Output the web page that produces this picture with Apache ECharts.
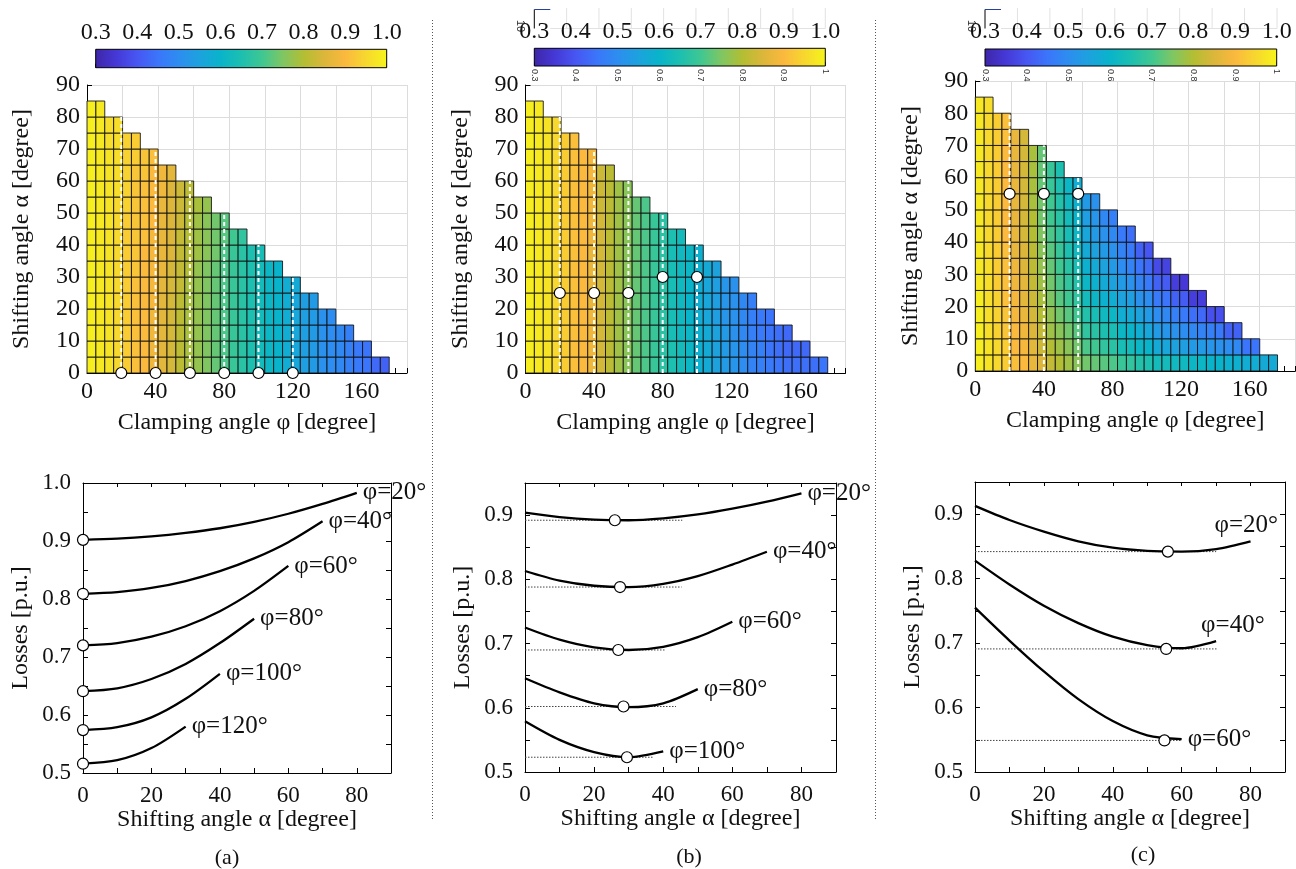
<!DOCTYPE html>
<html><head><meta charset="utf-8">
<script src="https://cdn.jsdelivr.net/npm/echarts@6/dist/echarts.min.js"></script>
<style>html,body{margin:0;padding:0;background:#fff}#c{width:1296px;height:869px}</style>
</head><body><div id="c"></div>
<script>
// ---------- DATA ----------
const cellPhi = [0,5,10,15,20,25,30,35,40,45,50,55,60,65,70,75,80,85,90,95,100,105,110,115,120,125,130,135,140,145,150,155,160,165];
const cellAlpha = [0,5,10,15,20,25,30,35,40,45,50,55,60,65,70,75,80];
const colorbarRange = [0.3, 1.0];

const heatA = [
[0.99,0.99,0.99,0.99,0.99,0.99,0.99,0.99,0.99,0.99,0.99,0.99,0.99,0.99,0.99,0.99,0.99],
[0.98,0.98,0.98,0.98,0.98,0.98,0.98,0.98,0.98,0.98,0.98,0.98,0.98,0.98,0.98,0.98,0.98],
[0.97,0.97,0.97,0.97,0.97,0.97,0.97,0.97,0.97,0.97,0.97,0.97,0.97,0.97,0.96,0.96],
[0.95,0.95,0.95,0.95,0.95,0.95,0.95,0.95,0.95,0.95,0.95,0.96,0.96,0.96,0.96,0.96],
[0.93,0.93,0.93,0.93,0.93,0.93,0.93,0.93,0.93,0.93,0.94,0.94,0.94,0.94,0.94],
[0.91,0.91,0.91,0.91,0.91,0.91,0.92,0.92,0.92,0.92,0.92,0.92,0.92,0.93,0.93],
[0.90,0.90,0.90,0.90,0.90,0.90,0.90,0.90,0.91,0.91,0.91,0.91,0.92,0.92],
[0.88,0.88,0.88,0.88,0.89,0.89,0.89,0.89,0.89,0.90,0.90,0.90,0.90,0.91],
[0.86,0.86,0.86,0.86,0.86,0.86,0.87,0.87,0.87,0.87,0.87,0.88,0.88],
[0.84,0.84,0.84,0.84,0.84,0.84,0.84,0.85,0.85,0.85,0.85,0.85,0.86],
[0.81,0.81,0.81,0.81,0.81,0.82,0.82,0.82,0.82,0.83,0.83,0.83],
[0.79,0.79,0.79,0.79,0.79,0.79,0.80,0.80,0.80,0.80,0.81,0.81],
[0.77,0.77,0.77,0.77,0.77,0.77,0.77,0.78,0.78,0.78,0.79],
[0.75,0.75,0.75,0.75,0.75,0.75,0.75,0.76,0.76,0.76,0.77],
[0.73,0.73,0.73,0.73,0.73,0.73,0.73,0.74,0.74,0.74],
[0.71,0.71,0.71,0.71,0.71,0.71,0.71,0.71,0.72,0.72],
[0.69,0.69,0.69,0.69,0.69,0.69,0.69,0.69,0.70],
[0.67,0.67,0.67,0.67,0.67,0.67,0.67,0.67,0.68],
[0.65,0.65,0.65,0.65,0.65,0.65,0.65,0.65],
[0.63,0.63,0.63,0.63,0.63,0.63,0.63,0.64],
[0.61,0.61,0.61,0.61,0.61,0.61,0.61],
[0.60,0.60,0.60,0.60,0.60,0.60,0.60],
[0.58,0.58,0.58,0.58,0.58,0.58],
[0.56,0.56,0.56,0.56,0.56,0.57],
[0.54,0.54,0.54,0.54,0.54],
[0.53,0.53,0.53,0.53,0.53],
[0.51,0.51,0.51,0.51],
[0.50,0.50,0.50,0.50],
[0.49,0.49,0.49],
[0.47,0.47,0.47],
[0.46,0.46],
[0.45,0.45],
[0.43],
[0.42]];

const heatB = [
[0.99,0.99,0.99,0.99,0.99,0.99,0.99,0.99,0.99,0.99,0.99,0.99,0.99,0.99,0.99,0.99,0.99],
[0.98,0.98,0.98,0.98,0.98,0.98,0.98,0.98,0.98,0.98,0.98,0.98,0.98,0.98,0.98,0.98,0.98],
[0.97,0.97,0.97,0.97,0.97,0.97,0.97,0.97,0.97,0.97,0.97,0.97,0.97,0.97,0.97,0.97],
[0.95,0.95,0.95,0.95,0.95,0.95,0.95,0.95,0.95,0.95,0.95,0.95,0.95,0.95,0.95,0.95],
[0.93,0.93,0.93,0.93,0.93,0.93,0.93,0.93,0.93,0.93,0.93,0.93,0.93,0.93,0.93],
[0.91,0.91,0.91,0.91,0.91,0.91,0.91,0.91,0.91,0.91,0.91,0.91,0.91,0.91,0.91],
[0.90,0.90,0.90,0.90,0.90,0.90,0.90,0.90,0.90,0.90,0.90,0.90,0.90,0.90],
[0.88,0.88,0.88,0.88,0.87,0.87,0.87,0.87,0.88,0.88,0.88,0.88,0.89,0.89],
[0.84,0.84,0.84,0.84,0.84,0.84,0.84,0.84,0.84,0.84,0.83,0.83,0.83],
[0.81,0.81,0.81,0.81,0.81,0.81,0.81,0.81,0.81,0.81,0.81,0.81,0.81],
[0.78,0.78,0.78,0.78,0.78,0.78,0.78,0.78,0.78,0.78,0.78,0.78],
[0.76,0.76,0.76,0.76,0.76,0.76,0.76,0.76,0.76,0.76,0.76,0.76],
[0.73,0.73,0.73,0.73,0.73,0.73,0.73,0.73,0.73,0.73,0.73],
[0.71,0.71,0.71,0.71,0.71,0.71,0.71,0.71,0.71,0.71,0.71],
[0.69,0.69,0.69,0.69,0.69,0.69,0.69,0.69,0.69,0.69],
[0.67,0.67,0.67,0.67,0.67,0.67,0.67,0.67,0.67,0.67],
[0.65,0.65,0.64,0.64,0.64,0.64,0.64,0.64,0.65],
[0.63,0.63,0.62,0.62,0.62,0.62,0.62,0.62,0.63],
[0.61,0.61,0.61,0.60,0.60,0.60,0.61,0.61],
[0.59,0.59,0.59,0.58,0.58,0.58,0.59,0.59],
[0.57,0.57,0.57,0.56,0.56,0.56,0.57],
[0.55,0.55,0.55,0.54,0.54,0.54,0.55],
[0.53,0.53,0.53,0.52,0.52,0.52],
[0.52,0.52,0.51,0.51,0.51,0.51],
[0.50,0.50,0.49,0.49,0.49],
[0.48,0.48,0.47,0.47,0.47],
[0.47,0.47,0.46,0.46],
[0.46,0.45,0.45,0.45],
[0.45,0.44,0.44],
[0.44,0.43,0.43],
[0.44,0.43],
[0.44,0.43],
[0.44],
[0.45]];

const heatC = [
[0.99,0.99,0.99,0.99,0.99,0.98,0.98,0.98,0.98,0.98,0.98,0.98,0.98,0.98,0.98,0.98,0.98],
[0.97,0.97,0.96,0.96,0.96,0.96,0.96,0.95,0.95,0.95,0.95,0.95,0.95,0.95,0.95,0.95,0.96],
[0.95,0.95,0.94,0.94,0.94,0.93,0.93,0.93,0.93,0.93,0.93,0.93,0.93,0.93,0.93,0.93],
[0.93,0.93,0.92,0.92,0.91,0.91,0.91,0.91,0.90,0.90,0.90,0.90,0.90,0.90,0.91,0.91],
[0.91,0.90,0.90,0.89,0.89,0.88,0.88,0.87,0.87,0.87,0.87,0.87,0.87,0.87,0.87],
[0.90,0.89,0.88,0.87,0.86,0.86,0.85,0.85,0.84,0.84,0.84,0.84,0.84,0.84,0.84],
[0.87,0.86,0.85,0.84,0.83,0.82,0.81,0.81,0.80,0.80,0.79,0.79,0.79,0.79],
[0.85,0.83,0.82,0.80,0.79,0.78,0.77,0.76,0.75,0.74,0.74,0.73,0.73,0.73],
[0.82,0.80,0.78,0.77,0.75,0.74,0.73,0.72,0.71,0.70,0.70,0.69,0.69],
[0.80,0.78,0.76,0.74,0.72,0.71,0.70,0.69,0.68,0.67,0.66,0.65,0.65],
[0.78,0.76,0.74,0.72,0.70,0.68,0.67,0.65,0.64,0.63,0.62,0.61],
[0.76,0.74,0.72,0.70,0.68,0.66,0.64,0.62,0.61,0.60,0.59,0.58],
[0.74,0.71,0.68,0.66,0.63,0.61,0.59,0.57,0.56,0.54,0.53],
[0.73,0.70,0.67,0.64,0.61,0.59,0.57,0.55,0.53,0.52,0.51],
[0.72,0.68,0.65,0.62,0.59,0.57,0.55,0.53,0.51,0.49],
[0.71,0.67,0.64,0.61,0.58,0.55,0.53,0.51,0.49,0.47],
[0.69,0.64,0.61,0.58,0.55,0.53,0.50,0.48,0.46],
[0.68,0.63,0.60,0.57,0.54,0.51,0.48,0.46,0.44],
[0.66,0.61,0.58,0.55,0.51,0.48,0.45,0.42],
[0.65,0.60,0.56,0.53,0.50,0.46,0.43,0.40],
[0.63,0.57,0.53,0.50,0.46,0.42,0.38],
[0.63,0.56,0.52,0.49,0.45,0.41,0.37],
[0.62,0.55,0.51,0.47,0.42,0.36],
[0.62,0.54,0.50,0.46,0.41,0.35],
[0.61,0.53,0.49,0.44,0.36],
[0.61,0.53,0.48,0.43,0.36],
[0.60,0.52,0.47,0.39],
[0.60,0.51,0.46,0.39],
[0.59,0.50,0.42],
[0.59,0.49,0.42],
[0.58,0.45],
[0.58,0.45],
[0.57],
[0.57]];

// optimum markers / dotted guide lines on the maps
const mapPhiA = [20,40,60,80,100,120];
const mapAlphaA = [0,0,0,0,0,0];
const mapTopA = [80,70,60,50,40,30];
const mapPhiB = [20,40,60,80,100];
const mapAlphaB = [25,25,25,30,30];
const mapTopB = [80,70,60,50,40];
const mapPhiC = [20,40,60];
const mapAlphaC = [55,55,55];
const mapTopC = [80,70,60];

// loss curves
const labelsA = ['φ=20°','φ=40°','φ=60°','φ=80°','φ=100°','φ=120°'];
const alphaA = [[0,10,20,30,40,50,60,70,80],[0,10,20,30,40,50,60,70],[0,10,20,30,40,50,60],[0,10,20,30,40,50],[0,10,20,30,40],[0,10,20,30]];
const lossA = [[0.902,0.904,0.908,0.914,0.922,0.933,0.947,0.964,0.983],[0.809,0.812,0.819,0.831,0.848,0.870,0.898,0.934],[0.720,0.724,0.735,0.753,0.779,0.814,0.857],[0.641,0.646,0.662,0.688,0.724,0.766],[0.574,0.579,0.596,0.628,0.671],[0.516,0.522,0.543,0.580]];
const optAlphaA = [0,0,0,0,0,0];
const optLossA = [0.902,0.809,0.720,0.641,0.574,0.516];

const labelsB = ['φ=20°','φ=40°','φ=60°','φ=80°','φ=100°'];
const alphaB = [[0,10,20,30,40,50,60,70,80],[0,10,20,30,40,50,60,70],[0,10,20,30,40,50,60],[0,10,20,30,40,50],[0,10,20,30,40]];
const lossB = [[0.904,0.897,0.893,0.892,0.895,0.901,0.910,0.921,0.934],[0.813,0.798,0.790,0.788,0.793,0.805,0.823,0.843],[0.725,0.706,0.694,0.690,0.695,0.710,0.734],[0.646,0.624,0.607,0.601,0.607,0.629],[0.579,0.550,0.531,0.523,0.532]];
const optAlphaB = [26,27.5,27,28.5,29.5];
const optLossB = [0.892,0.788,0.690,0.602,0.523];
const refEndB = [45.5,45.3,40.5,43.7,37];

const labelsC = ['φ=20°','φ=40°','φ=60°'];
const alphaC = [[0,10,20,30,40,50,60,70,80],[0,10,20,30,40,50,60,70],[0,10,20,30,40,50,60]];
const lossC = [[0.913,0.891,0.873,0.858,0.848,0.843,0.842,0.846,0.858],[0.828,0.791,0.758,0.731,0.710,0.697,0.692,0.703],[0.755,0.704,0.656,0.613,0.579,0.557,0.551]];
const optAlphaC = [56,55.5,55];
const optLossC = [0.842,0.691,0.549];
const refEndC = [70,70.5,59.7];

// ---------- STYLE / LAYOUT ----------
const FONT = 'Liberation Serif';
const TXT = '#111';
const parula = ['#3E26A8','#4538D6','#4756F2','#3B75FB','#2D8DF0','#1DA2DE','#09B4CA','#1CBFB0','#3FC792','#7FC663','#B3BE33','#DCB63A','#FBB93E','#F7D82E','#F6F41A'];
const CELL = 5;
const heatGrids = [{left:87,top:85,width:320,height:288},{left:525.5,top:85,width:320,height:288},{left:975.3,top:81,width:320,height:290}];
const cbGrids = [{left:95.7,top:49.3,width:291,height:18.4},{left:534.3,top:48.3,width:291,height:17.7},{left:985,top:49,width:291.7,height:17}];
const lossGrids = [{left:83,top:483,width:308,height:290},{left:525,top:483,width:311,height:289},{left:975,top:482,width:310,height:290}];
const lossMax = [1.0,0.95,0.95];

const grid = [];
heatGrids.concat(cbGrids, lossGrids).forEach(g => grid.push(Object.assign({outerBoundsMode:'none', containLabel:false}, g)));

const xAxis = [], yAxis = [];
const lbl = (size, extra) => Object.assign({fontFamily:FONT, fontSize:size, color:TXT}, extra||{});
// heat cell axes 0..2
for (let p=0;p<3;p++) xAxis.push({gridIndex:p,type:'value',min:0,max:180,interval:20,axisLine:{show:false},axisTick:{show:false},axisLabel:{show:false},splitLine:{show:true,lineStyle:{color:'#dcdcdc',width:1}}});
// heat label axes 3..5
for (let p=0;p<3;p++) xAxis.push({gridIndex:p,type:'value',min:0,max:186.6,interval:20,position:'bottom',
  axisLine:{show:true,onZero:false,lineStyle:{color:'#000',width:1}},axisTick:{show:true,inside:true,length:5,lineStyle:{color:'#000'}},
  axisLabel:lbl(24,{margin:7,formatter:v=> (Math.abs(v%40)<1e-6 && v<=160.1)?String(Math.round(v)):''}),splitLine:{show:false},
  name:'Clamping angle φ [degree]',nameLocation:'middle',nameGap:38,nameTextStyle:lbl(24)});
// colorbar top label axes 6..8
for (let p=0;p<3;p++) xAxis.push({gridIndex:3+p,type:'value',min:0.3,max:1.0,interval:0.1,position:'top',
  axisLine:{show:false},axisTick:{show:false},splitLine:{show:false},axisLabel:lbl(24,{margin:5,formatter:v=>v.toFixed(1)})});
// colorbar bottom tick axes 9..11
for (let p=0;p<3;p++) xAxis.push({gridIndex:3+p,type:'value',min:0.3,max:1.0,interval:0.1,position:'bottom',
  axisLine:{show:false},axisTick:{show:true,inside:true,length:4,lineStyle:{color:'#222'}},splitLine:{show:false},
  axisLabel:{show:p>0,rotate:-90,margin:3,fontSize:9,fontFamily:'Liberation Sans',color:'#333',formatter:v=> v>0.999?'1':v.toFixed(1)}});
// loss x axes 12..14
for (let p=0;p<3;p++) xAxis.push({gridIndex:6+p,type:'value',min:0,max:90,interval:10,position:'bottom',
  axisLine:{show:true,onZero:false,lineStyle:{color:'#000',width:1}},axisTick:{inside:true,length:5,lineStyle:{color:'#000'}},
  axisLabel:lbl(23,{margin:11,formatter:v=> (v%20===0 && v<=80)?String(v):''}),splitLine:{show:false},
  name:'Shifting angle α [degree]',nameLocation:'middle',nameGap:34,nameTextStyle:lbl(24)});
// loss top frame 15..17
for (let p=0;p<3;p++) xAxis.push({gridIndex:6+p,type:'value',min:0,max:90,interval:10,position:'top',
  axisLine:{show:true,onZero:false,lineStyle:{color:'#000',width:1}},axisTick:{inside:true,length:4,lineStyle:{color:'#000'}},axisLabel:{show:false},splitLine:{show:false}});

// heat y 0..2
for (let p=0;p<3;p++) yAxis.push({gridIndex:p,type:'value',min:0,max:90,interval:10,
  axisLine:{show:true,onZero:false,lineStyle:{color:'#000',width:1}},axisTick:{show:true,inside:true,length:5,lineStyle:{color:'#000'}},
  axisLabel:lbl(24,{margin:7}),splitLine:{show:true,lineStyle:{color:'#dcdcdc',width:1}},
  name:'Shifting angle α [degree]',nameLocation:'middle',nameGap:53,nameRotate:90,nameTextStyle:lbl(24)});
// colorbar y 3..5
for (let p=0;p<3;p++) yAxis.push({gridIndex:3+p,type:'value',min:0,max:1,show:false});
// loss y 6..8
for (let p=0;p<3;p++) yAxis.push({gridIndex:6+p,type:'value',min:0.5,max:lossMax[p],interval:0.05,
  axisLine:{show:true,onZero:false,lineStyle:{color:'#000',width:1}},axisTick:{inside:true,length:5,lineStyle:{color:'#000'}},
  axisLabel:lbl(23,{margin:12,formatter:v=> (Math.round(v*100)%10===0)?v.toFixed(1):''}),splitLine:{show:false},
  name:'Losses [p.u.]',nameLocation:'middle',nameGap:50,nameRotate:90,nameTextStyle:lbl(24)});
// loss right frame 9..11
for (let p=0;p<3;p++) yAxis.push({gridIndex:6+p,type:'value',min:0.5,max:lossMax[p],interval:0.05,position:'right',
  axisLine:{show:true,onZero:false,lineStyle:{color:'#000',width:1}},axisTick:{inside:true,length:5,lineStyle:{color:'#000'}},axisLabel:{show:false},splitLine:{show:false}});

function cells(heat){
  const out=[];
  heat.forEach((col,j)=>col.forEach((v,r)=>out.push([cellPhi[j],cellAlpha[r],v])));
  return out;
}
function renderCell(params, api){
  const x=api.value(0), y=api.value(1);
  const a=api.coord([x, y+CELL]), b=api.coord([x+CELL, y]);
  return {type:'rect',shape:{x:a[0],y:a[1],width:b[0]-a[0],height:b[1]-a[1]},
    style:{fill:api.visual('color'),stroke:'rgba(15,15,15,0.85)',lineWidth:1}};
}
const gradStops = parula.map((c,i)=>({offset:i/(parula.length-1),color:c}));
function renderBar(params, api){
  const a=api.coord([api.value(0),1]), b=api.coord([api.value(1),0]);
  return {type:'rect',shape:{x:a[0],y:a[1],width:b[0]-a[0],height:b[1]-a[1]},
    style:{fill:{type:'linear',x:0,y:0,x2:1,y2:0,colorStops:gradStops},stroke:'#000',lineWidth:1}};
}

const series = [];
[heatA,heatB,heatC].forEach((h,p)=>series.push({type:'custom',xAxisIndex:p,yAxisIndex:p,renderItem:renderCell,
  dimensions:['phi','alpha','loss'],encode:{x:0,y:1},data:cells(h),z:2,silent:true}));
for (let p=0;p<3;p++) series.push({type:'custom',xAxisIndex:6+p,yAxisIndex:3+p,renderItem:renderBar,data:[[colorbarRange[0],colorbarRange[1]]],silent:true,z:2});

const maps = [[mapPhiA,mapAlphaA,mapTopA],[mapPhiB,mapAlphaB,mapTopB],[mapPhiC,mapAlphaC,mapTopC]];
maps.forEach((m,p)=>{
  m[0].forEach((phi,i)=>series.push({type:'line',xAxisIndex:3+p,yAxisIndex:p,data:[[phi,0],[phi,m[2][i]]],symbol:'none',
    lineStyle:{color:'#fff',width:2,type:[4,3]},z:4,silent:true}));
  series.push({type:'scatter',xAxisIndex:3+p,yAxisIndex:p,data:m[0].map((phi,i)=>[phi,m[1][i]]),symbol:'circle',symbolSize:11,
    itemStyle:{color:'#fff',borderColor:'#000',borderWidth:1.2,opacity:1},z:6,silent:true});
});

const lossSets = [[labelsA,alphaA,lossA,optAlphaA,optLossA,null],[labelsB,alphaB,lossB,optAlphaB,optLossB,refEndB],[labelsC,alphaC,lossC,optAlphaC,optLossC,refEndC]];
const labelOffsets = [[],[],[[-42,-16],[-21,-16],[0,0]]];
lossSets.forEach((s,p)=>{
  const [names,al,lo,oa,ol,re] = s;
  if (re) re.forEach((e,i)=>series.push({type:'line',xAxisIndex:12+p,yAxisIndex:6+p,data:[[0,ol[i]],[e,ol[i]]],symbol:'none',
    lineStyle:{color:'#444',width:1,type:[1.5,1.5]},z:2,silent:true}));
  names.forEach((nm,i)=>series.push({type:'line',name:nm,xAxisIndex:12+p,yAxisIndex:6+p,data:al[i].map((a,k)=>[a,lo[i][k]]),
    smooth:0.3,symbol:'none',lineStyle:{color:'#000',width:2.3},z:3,silent:true,
    endLabel:{show:true,formatter:()=>nm,fontFamily:FONT,fontSize:25,color:TXT,distance:6,offset:(labelOffsets[p][i]||[0,0])}}));
  series.push({type:'scatter',xAxisIndex:12+p,yAxisIndex:6+p,data:oa.map((a,i)=>[a,ol[i]]),symbol:'circle',symbolSize:11,
    itemStyle:{color:'#fff',borderColor:'#000',borderWidth:1.2,opacity:1},z:6,silent:true});
});

// decorations
const graphic = [
  {type:'line',shape:{x1:432.5,y1:20,x2:432.5,y2:820},style:{stroke:'#555',lineWidth:1,lineDash:[1,2]}},
  {type:'line',shape:{x1:875.5,y1:20,x2:875.5,y2:820},style:{stroke:'#555',lineWidth:1,lineDash:[1,2]}},
  {type:'text',x:227,y:858,style:{text:'(a)',font:'22px "Liberation Serif"',fill:TXT,align:'center',verticalAlign:'middle',textAlign:'center',textVerticalAlign:'middle'}},
  {type:'text',x:689,y:857,style:{text:'(b)',font:'22px "Liberation Serif"',fill:TXT,align:'center',verticalAlign:'middle',textAlign:'center',textVerticalAlign:'middle'}},
  {type:'text',x:1143,y:855,style:{text:'(c)',font:'22px "Liberation Serif"',fill:TXT,align:'center',verticalAlign:'middle',textAlign:'center',textVerticalAlign:'middle'}}
];
[[534.3,825.3,520],[985,1277,971.5]].forEach(([x0,x1,tx])=>{
  const step=(x1-x0)/9;
  for (let k=1;k<=9;k++) graphic.push({type:'line',shape:{x1:x0+step*k,y1:8,x2:x0+step*k,y2:28.5},style:{stroke:'#e2e2e2',lineWidth:1}});
  graphic.push({type:'line',shape:{x1:x0+16,y1:28.5,x2:x1,y2:28.5},style:{stroke:'#e2e2e2',lineWidth:1}});
  graphic.push({type:'line',shape:{x1:x0,y1:9.5,x2:x0,y2:28.5},style:{stroke:'#000',lineWidth:1}});
  graphic.push({type:'line',shape:{x1:x0,y1:9.5,x2:x0+16,y2:9.5},style:{stroke:'#2b3fa0',lineWidth:1}});
  graphic.push({type:'text',x:tx,y:26,rotation:-Math.PI/2,style:{text:'10',font:'11px "Liberation Sans"',fill:'#333',align:'center',verticalAlign:'middle',textAlign:'center',textVerticalAlign:'middle'}});
});

const chart = echarts.init(document.getElementById('c'), null, {renderer:'canvas',width:1296,height:869});
chart.setOption({
  animation:false,
  backgroundColor:'#fff',
  textStyle:{fontFamily:FONT},
  grid, xAxis, yAxis,
  visualMap:[{type:'continuous',show:false,min:colorbarRange[0],max:colorbarRange[1],dimension:2,seriesIndex:[0,1,2],inRange:{color:parula}}],
  series, graphic
});
</script></body></html>
